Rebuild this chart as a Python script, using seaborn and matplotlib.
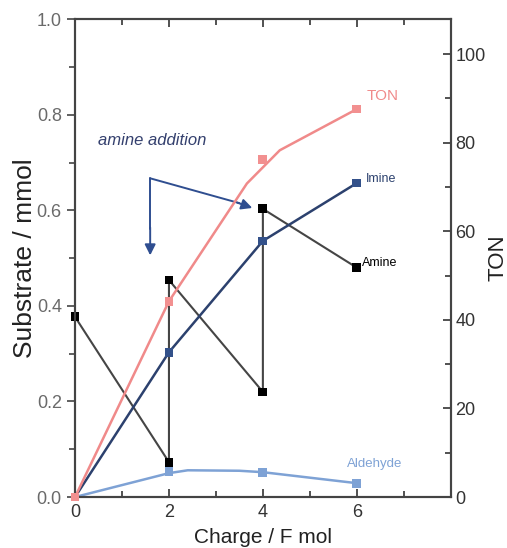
import matplotlib
matplotlib.use("Agg")
import matplotlib.pyplot as plt
import seaborn as sns

# data
charge_pts = [0, 2, 4, 6]

amine_x = [0, 2, 2, 4, 4, 6]
amine_y = [0.377, 0.073, 0.454, 0.220, 0.603, 0.480]

imine_y = [0.0, 0.303, 0.536, 0.657]

aldehyde_y = [0.0, 0.054, 0.052, 0.029]
aldehyde_line_x = [0, 2, 2.4, 3.5, 4, 6]
aldehyde_line_y = [0.0, 0.050, 0.056, 0.055, 0.052, 0.029]

ton_y = [0.0, 44.2, 76.3, 87.6]
ton_line_x = [0, 2, 3.66, 4.36, 6]
ton_line_y = [0.0, 44.2, 70.8, 78.3, 87.6]

c_ton = "#f08a8a"
c_imine = "#2c416e"
c_amine_line = "#454545"
c_ald = "#7ea2d5"
c_arrow = "#2f4e90"

sns.set_style("ticks")
plt.rcParams["font.family"] = ["Liberation Sans", "DejaVu Sans"]

fig = plt.figure(figsize=(5.07, 5.48), dpi=100)
ax = fig.add_axes([0.148, 0.093, 0.741, 0.872])
ax2 = ax.twinx()

# left axis: substrates
sns.lineplot(x=amine_x, y=amine_y, sort=False, estimator=None, color=c_amine_line, lw=1.5, ax=ax)
sns.lineplot(x=charge_pts, y=imine_y, sort=False, estimator=None, color=c_imine, lw=1.8, ax=ax)
sns.lineplot(x=aldehyde_line_x, y=aldehyde_line_y, sort=False, estimator=None, color=c_ald, lw=1.8, ax=ax)
sns.scatterplot(x=amine_x, y=amine_y, marker="s", s=40, color="black", edgecolor="none", ax=ax, zorder=5, clip_on=False)
sns.scatterplot(x=charge_pts, y=imine_y, marker="s", s=40, color="#33518a", edgecolor="none", ax=ax, zorder=5, clip_on=False)
sns.scatterplot(x=charge_pts, y=aldehyde_y, marker="s", s=40, color=c_ald, edgecolor="none", ax=ax, zorder=5, clip_on=False)

# right axis: TON
sns.lineplot(x=ton_line_x, y=ton_line_y, sort=False, estimator=None, color=c_ton, lw=1.8, ax=ax2)
sns.scatterplot(x=charge_pts, y=ton_y, marker="s", s=40, color="#f29090", edgecolor="none", ax=ax2, zorder=5, clip_on=False)

ax.set_xlim(0, 8)
ax.set_ylim(0, 1.0)
ax2.set_ylim(0, 107.9)

ax.set_xticks([0, 2, 4, 6])
ax.set_xticks([1, 3, 5, 7], minor=True)
ax.set_yticks([0, 0.2, 0.4, 0.6, 0.8, 1.0])
ax.set_yticks([0.1, 0.3, 0.5, 0.7, 0.9], minor=True)
ax.set_yticklabels(["0.0", "0.2", "0.4", "0.6", "0.8", "1.0"])
ax2.set_yticks([0, 20, 40, 60, 80, 100])
ax2.set_yticks([10, 30, 50, 70, 90], minor=True)

ax.tick_params(axis="x", which="both", direction="in", top=True, labelsize=13, colors="#333333", pad=5)
ax.tick_params(axis="x", which="major", length=6, width=1.2)
ax.tick_params(axis="x", which="minor", length=4, width=1.2)
ax.tick_params(axis="y", which="both", direction="out", width=1.2, labelsize=13, labelcolor="#6a6a6a", color="#444444")
ax.tick_params(axis="y", which="major", length=6)
ax.tick_params(axis="y", which="minor", length=4)
ax2.tick_params(axis="y", which="both", direction="in", width=1.2, labelsize=13, colors="#333333")
ax2.tick_params(axis="y", which="major", length=6)
ax2.tick_params(axis="y", which="minor", length=4)

for a in (ax, ax2):
    for sp in a.spines.values():
        sp.set_linewidth(1.5)
        sp.set_color("#444444")

ax.set_xlabel("Charge / F mol", fontsize=15, color="#222222", labelpad=5)
ax.set_ylabel("Substrate / mmol", fontsize=19, color="#222222", labelpad=0)
ax2.set_ylabel("TON", fontsize=16, color="#222222", labelpad=1)

# series labels
ax2.text(6.2, 90.5, "TON", color=c_ton, fontsize=11, va="center", ha="left")
ax.text(6.2, 0.665, "Imine", color=c_imine, fontsize=9, va="center", ha="left")
ax.text(6.12, 0.49, "Amine", color="black", fontsize=9, va="center", ha="left")
ax.text(5.8, 0.07, "Aldehyde", color=c_ald, fontsize=9.5, va="center", ha="left")

# amine addition note
ax.text(1.64, 0.747, "amine addition", color="#34406e", fontsize=12, style="italic", ha="center", va="center")
ax.plot([1.6, 1.6], [0.667, 0.56], color=c_arrow, lw=1.4)
ax.annotate("", xy=(1.6, 0.50), xytext=(1.6, 0.57),
            arrowprops=dict(arrowstyle="-|>", color=c_arrow, lw=1.4, mutation_scale=16))
ax.plot([1.6, 3.5], [0.667, 0.615], color=c_arrow, lw=1.4)
ax.annotate("", xy=(3.83, 0.603), xytext=(3.4, 0.618),
            arrowprops=dict(arrowstyle="-|>", color=c_arrow, lw=1.4, mutation_scale=16))

fig.savefig("out.png", dpi=100)
